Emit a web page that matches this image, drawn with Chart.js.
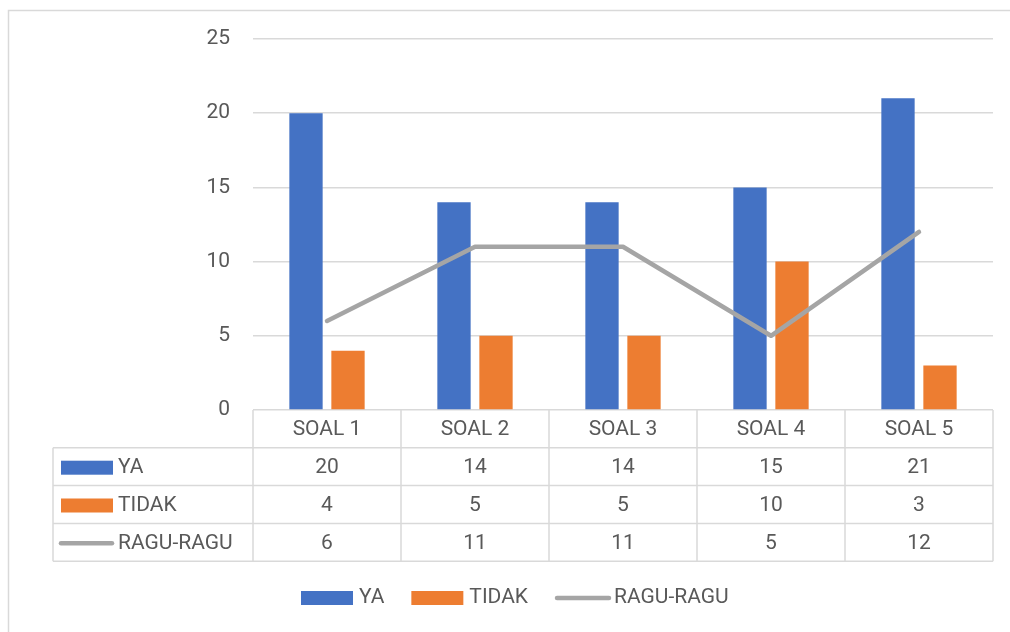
<!DOCTYPE html>
<html>
<head>
<meta charset="utf-8">
<script src="https://cdn.jsdelivr.net/npm/chart.js@4/dist/chart.umd.min.js"></script>
<style>
  html, body { margin: 0; padding: 0; background: #fff; }
  #wrap { width: 1010px; height: 632px; position: relative; }
</style>
</head>
<body>
<div id="wrap"><canvas id="c" width="1010" height="632"></canvas></div>
<script>
const categories = ['SOAL 1', 'SOAL 2', 'SOAL 3', 'SOAL 4', 'SOAL 5'];
const seriesNames = ['YA', 'TIDAK', 'RAGU-RAGU'];
const yaValues = [20, 14, 14, 15, 21];
const tidakValues = [4, 5, 5, 10, 3];
const raguValues = [6, 11, 11, 5, 12];

const FONT = 'Roboto, "Liberation Sans", sans-serif';
const TEXT = '#595959';
const GRID = '#D9D9D9';
const COLORS = ['#4472C4', '#ED7D31', '#A5A5A5'];

const tablePlugin = {
  id: 'tablePlugin',
  beforeDraw(chart) {
    const ctx = chart.ctx;
    ctx.save();
    ctx.fillStyle = '#fff';
    ctx.fillRect(0, 0, chart.width, chart.height);
    ctx.strokeStyle = GRID;
    ctx.lineWidth = 1.5;
    ctx.beginPath();
    ctx.moveTo(8.5, chart.height + 5);
    ctx.lineTo(8.5, 10.5);
    ctx.lineTo(chart.width + 5, 10.5);
    ctx.stroke();
    ctx.restore();
  },
  afterDraw(chart) {
    const ctx = chart.ctx;
    const area = chart.chartArea;
    const xs = chart.scales.x;
    const n = categories.length;
    const colW = (area.right - area.left) / n;
    const rowH = 37.8;
    const top = area.bottom;
    const tableLeft = 53;
    const nRows = chart.data.datasets.length;
    const bottom = top + rowH * (nRows + 1);

    ctx.save();
    ctx.strokeStyle = GRID;
    ctx.lineWidth = 1.5;
    ctx.beginPath();
    for (let i = 0; i <= n; i++) {
      const x = area.left + i * colW;
      ctx.moveTo(x, top);
      ctx.lineTo(x, bottom);
    }
    ctx.moveTo(tableLeft, top + rowH);
    ctx.lineTo(tableLeft, bottom);
    for (let k = 1; k <= nRows + 1; k++) {
      const y = top + rowH * k;
      ctx.moveTo(tableLeft, y);
      ctx.lineTo(area.right, y);
    }
    ctx.stroke();

    ctx.font = '21px ' + FONT;
    ctx.fillStyle = TEXT;
    ctx.textBaseline = 'middle';
    ctx.textAlign = 'center';
    categories.forEach((c, i) => {
      ctx.fillText(c, xs.getPixelForValue(i), top + rowH / 2 + 1);
    });

    chart.data.datasets.forEach((ds, r) => {
      const yc = top + rowH * (r + 1) + rowH / 2 + 1;
      if (ds.type === 'line') {
        ctx.strokeStyle = ds.borderColor;
        ctx.lineWidth = 4.5;
        ctx.lineCap = 'round';
        ctx.beginPath();
        ctx.moveTo(61, yc);
        ctx.lineTo(112, yc);
        ctx.stroke();
      } else {
        ctx.fillStyle = ds.backgroundColor;
        ctx.fillRect(61, yc - 7, 52, 14);
      }
      ctx.fillStyle = TEXT;
      ctx.textAlign = 'left';
      ctx.fillText(ds.label, 118, yc);
      ctx.textAlign = 'center';
      ds.data.forEach((v, i) => {
        ctx.fillText(String(v), xs.getPixelForValue(i), yc);
      });
    });

    // legend
    const ly = 598;
    let lx = 301;
    chart.data.datasets.forEach((ds) => {
      if (ds.type === 'line') {
        ctx.strokeStyle = ds.borderColor;
        ctx.lineWidth = 4.5;
        ctx.lineCap = 'round';
        ctx.beginPath();
        ctx.moveTo(lx + 2, ly);
        ctx.lineTo(lx + 54, ly);
        ctx.stroke();
        lx += 59;
      } else {
        ctx.fillStyle = ds.backgroundColor;
        ctx.fillRect(lx, ly - 7, 52, 14);
        lx += 58;
      }
      ctx.fillStyle = TEXT;
      ctx.textAlign = 'left';
      ctx.fillText(ds.label, lx, ly);
      lx += ctx.measureText(ds.label).width + 27;
    });
    ctx.restore();
  }
};

new Chart(document.getElementById('c'), {
  type: 'bar',
  data: {
    labels: categories,
    datasets: [
      { type: 'bar', label: seriesNames[0], data: yaValues, backgroundColor: COLORS[0], order: 1,
        categoryPercentage: 0.5676, barPercentage: 0.793 },
      { type: 'bar', label: seriesNames[1], data: tidakValues, backgroundColor: COLORS[1], order: 1,
        categoryPercentage: 0.5676, barPercentage: 0.793 },
      { type: 'line', label: seriesNames[2], data: raguValues, borderColor: COLORS[2], backgroundColor: COLORS[2],
        borderWidth: 4.5, pointRadius: 0, pointHoverRadius: 0, borderCapStyle: 'round', borderJoinStyle: 'round',
        tension: 0, fill: false, order: 0 }
    ]
  },
  options: {
    responsive: false,
    animation: false,
    events: [],
    layout: { padding: { left: 0, top: 39, right: 17, bottom: 0 } },
    plugins: { legend: { display: false }, tooltip: { enabled: false } },
    scales: {
      x: {
        grid: { display: false },
        border: { display: false },
        ticks: { display: false },
        afterFit(scale) { scale.height = 222; }
      },
      y: {
        min: 0, max: 25,
        ticks: { stepSize: 5, color: TEXT, font: { family: FONT, size: 21 }, padding: 23 },
        grid: { color: GRID, lineWidth: 1.5, drawTicks: false },
        border: { display: false },
        afterFit(scale) { scale.width = 253; }
      }
    }
  },
  plugins: [tablePlugin]
});
</script>
</body>
</html>
